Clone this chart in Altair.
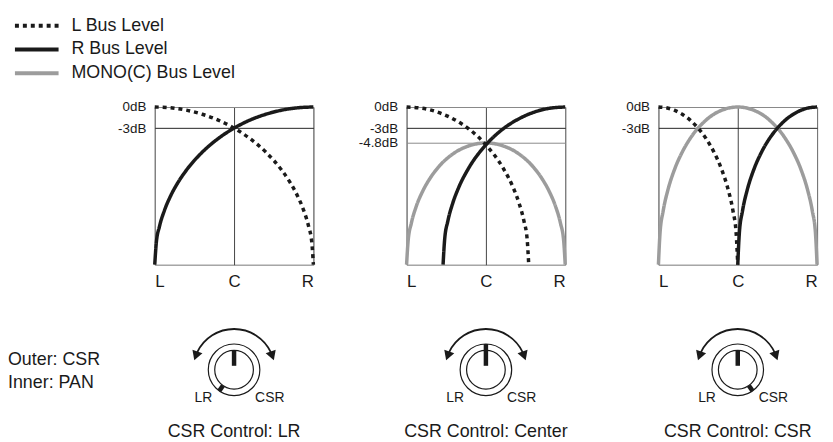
import altair as alt
import pandas as pd

FONT = "Liberation Sans"
INK = "#1a1a1a"
GRAY = "#9c9c9c"

series = ["MONO(C) Bus Level", "L Bus Level", "R Bus Level"]
legend_order = ["L Bus Level", "R Bus Level", "MONO(C) Bus Level"]
captions = ["CSR Control: LR", "CSR Control: Center", "CSR Control: CSR"]

# ---- curve values (x: 0=L, 0.5=C, 1=R ; y: 0=bottom, 1=0dB)
p1_R_x = [0, 0.01, 0.03, 0.06, 0.10, 0.15, 0.20, 0.30, 0.40, 0.50, 0.60, 0.70, 0.80, 0.90, 1.00]
p1_R_y = [0, 0.141, 0.243, 0.341, 0.436, 0.527, 0.600, 0.714, 0.800, 0.866, 0.917, 0.954, 0.980, 0.995, 1.0]
p1_L_x = [0, 0.10, 0.20, 0.30, 0.40, 0.50, 0.60, 0.70, 0.80, 0.85, 0.90, 0.94, 0.97, 0.99, 1.00]
p1_L_y = [1.0, 0.995, 0.980, 0.954, 0.917, 0.866, 0.800, 0.714, 0.600, 0.527, 0.436, 0.341, 0.243, 0.141, 0]

p2_M_x = [0, 0.01, 0.03, 0.06, 0.10, 0.15, 0.20, 0.30, 0.40, 0.50, 0.60, 0.70, 0.80, 0.85, 0.90, 0.94, 0.97, 0.99, 1.00]
p2_M_y = [0, 0.154, 0.263, 0.367, 0.463, 0.551, 0.618, 0.708, 0.756, 0.772, 0.756, 0.708, 0.618, 0.551, 0.463, 0.367, 0.263, 0.154, 0]
p2_R_x = [0.23, 0.24, 0.26, 0.29, 0.33, 0.39, 0.50, 0.60, 0.70, 0.80, 0.90, 1.00]
p2_R_y = [0, 0.161, 0.276, 0.387, 0.493, 0.610, 0.760, 0.855, 0.921, 0.966, 0.992, 1.0]
p2_L_x = [0, 0.10, 0.20, 0.30, 0.40, 0.50, 0.61, 0.67, 0.71, 0.74, 0.76, 0.77]
p2_L_y = [1.0, 0.992, 0.966, 0.921, 0.855, 0.760, 0.610, 0.493, 0.387, 0.276, 0.161, 0]

p3_M_x = [0, 0.01, 0.03, 0.06, 0.10, 0.15, 0.20, 0.30, 0.40, 0.50, 0.60, 0.70, 0.80, 0.85, 0.90, 0.94, 0.97, 0.99, 1.00]
p3_M_y = [0, 0.199, 0.341, 0.475, 0.600, 0.714, 0.800, 0.917, 0.980, 1.0, 0.980, 0.917, 0.800, 0.714, 0.600, 0.475, 0.341, 0.199, 0]
p3_L_x = [0, 0.05, 0.10, 0.15, 0.20, 0.25, 0.30, 0.35, 0.40, 0.44, 0.47, 0.49, 0.50]
p3_L_y = [1.0, 0.995, 0.980, 0.954, 0.917, 0.866, 0.800, 0.714, 0.600, 0.475, 0.341, 0.199, 0]
p3_R_x = [0.50, 0.51, 0.53, 0.56, 0.60, 0.65, 0.70, 0.75, 0.80, 0.85, 0.90, 0.95, 1.00]
p3_R_y = [0, 0.199, 0.341, 0.475, 0.600, 0.714, 0.800, 0.866, 0.917, 0.954, 0.980, 0.995, 1.0]

# y tick levels per panel
db_levels = [[1.0, 0.866], [1.0, 0.866, 0.772], [1.0, 0.866]]

# ---- knob description
knob_rings = [26, 19.5]                 # outer / inner circle radius
outer_marker_angle = [-145, 0, 145]     # degrees clockwise from 12 o'clock
inner_marker_angle = [0, 0, 0]
knob_labels = ["LR", "CSR"]
notes = ["Outer: CSR", "Inner: PAN"]


def frame(name, xs, ys):
    return pd.DataFrame({"bus": name, "x": xs, "y": ys})


panel_data = [
    pd.concat([frame("L Bus Level", p1_L_x, p1_L_y), frame("R Bus Level", p1_R_x, p1_R_y)]),
    pd.concat([frame("MONO(C) Bus Level", p2_M_x, p2_M_y), frame("L Bus Level", p2_L_x, p2_L_y),
               frame("R Bus Level", p2_R_x, p2_R_y)]),
    pd.concat([frame("MONO(C) Bus Level", p3_M_x, p3_M_y), frame("L Bus Level", p3_L_x, p3_L_y),
               frame("R Bus Level", p3_R_x, p3_R_y)]),
]

legend = alt.Legend(
    title=None, orient="none", legendX=-128, legendY=-91, symbolType="M-4.4,0H4.4",
    symbolSize=100, symbolStrokeWidth=4, labelFontSize=18, labelFont=FONT, labelColor=INK,
    labelOffset=26, rowPadding=6, labelLimit=400, values=legend_order,
)


def curve_chart(df, levels):
    ylab = "datum.value == 1 ? '0dB' : datum.value == 0.866 ? '-3dB' : '-4.8dB'"
    return alt.Chart(df).mark_line(strokeWidth=3.5, interpolate="monotone", strokeCap="butt").encode(
        x=alt.X("x:Q", scale=alt.Scale(domain=[0, 1], nice=False, zero=False),
                axis=alt.Axis(values=[0, 0.5, 1], title=None, ticks=False, tickSize=0, domain=False,
                              labelExpr="datum.value == 0 ? 'L' : datum.value == 1 ? 'R' : 'C'",
                              labelFontSize=17, labelPadding=9.5, labelColor=INK, labelFont=FONT,
                              grid=True, gridWidth=1,
                              gridColor={"condition": {"test": "datum.value == 0.5", "value": "#444"}, "value": "#777"})),
        y=alt.Y("y:Q", scale=alt.Scale(domain=[0, 1], nice=False, zero=False),
                axis=alt.Axis(values=levels, title=None, ticks=False, tickSize=0, domain=False,
                              labelExpr=ylab, labelFontSize=13.5, labelPadding=9, labelColor=INK,
                              labelFont=FONT, grid=True, gridWidth=1,
                              gridColor={"condition": {"test": "datum.value == 0.866", "value": "#222"}, "value": "#8a8a8a"})),
        color=alt.Color("bus:N", scale=alt.Scale(domain=series, range=[GRAY, INK, INK]), legend=legend),
        strokeDash=alt.StrokeDash("bus:N", scale=alt.Scale(domain=series, range=[[1, 0], [4, 4], [1, 0]]),
                                  legend=legend),
    ).properties(width=160, height=159, view=alt.ViewBackground(stroke="#777", strokeWidth=1))


XS = alt.Scale(domain=[-80, 80], nice=False, zero=False)
YS = alt.Scale(domain=[-44, 46], nice=False, zero=False)


def knob_chart(i):
    ring = alt.Chart(pd.DataFrame({"r": knob_rings})).transform_calculate(
        s="pow(2 * datum.r, 2)", cx="0", cy="0"
    ).mark_point(shape="circle", filled=False, stroke=INK, strokeWidth=1.2, opacity=1).encode(
        x=alt.X("cx:Q", scale=XS, axis=None), y=alt.Y("cy:Q", scale=YS, axis=None),
        size=alt.Size("s:Q", scale=None, legend=None),
    )
    center = pd.DataFrame({"cx": [0], "cy": [0]})
    arc = alt.Chart(center).mark_arc(radius=42, radius2=40.2, theta=5.15, theta2=7.42, color=INK).encode(
        x=alt.X("cx:Q", scale=XS, axis=None), y=alt.Y("cy:Q", scale=YS, axis=None))
    heads = alt.Chart(pd.DataFrame({"a": [-70, 70], "rot": [200, 160]})).transform_calculate(
        hx="41 * sin(datum.a * PI / 180)", hy="41 * cos(datum.a * PI / 180)"
    ).mark_point(shape="triangle-up", filled=True, color=INK, size=115, opacity=1).encode(
        x=alt.X("hx:Q", scale=XS, axis=None), y=alt.Y("hy:Q", scale=YS, axis=None),
        angle=alt.Angle("rot:Q", scale=None))
    marks = pd.DataFrame({
        "a": [inner_marker_angle[i], outer_marker_angle[i]],
        "r1": [4, knob_rings[1]],
        "r2": [knob_rings[1], knob_rings[0]],
    })
    bars = alt.Chart(marks).transform_calculate(
        x1="datum.r1 * sin(datum.a * PI / 180)", y1="datum.r1 * cos(datum.a * PI / 180)",
        x2="datum.r2 * sin(datum.a * PI / 180)", y2="datum.r2 * cos(datum.a * PI / 180)",
    ).mark_rule(strokeWidth=4.5, strokeCap="butt", color=INK).encode(
        x=alt.X("x1:Q", scale=XS, axis=None), y=alt.Y("y1:Q", scale=YS, axis=None),
        x2="x2:Q", y2="y2:Q")
    labs = alt.Chart(pd.DataFrame({"t": knob_labels, "lx": [-31, 36], "ly": [-29, -29]})).mark_text(
        font=FONT, fontSize=14, color=INK).encode(
        x=alt.X("lx:Q", scale=XS, axis=None), y=alt.Y("ly:Q", scale=YS, axis=None), text="t:N")
    layers = [ring, arc, heads, bars, labs]
    if i == 0:
        note = alt.Chart(pd.DataFrame({"t": notes, "nx": [-228, -228], "ny": [10, -13]})).mark_text(
            font=FONT, fontSize=18, color=INK, align="left").encode(
            x=alt.X("nx:Q", scale=XS, axis=None), y=alt.Y("ny:Q", scale=YS, axis=None), text="t:N")
        layers.append(note)
    return alt.layer(*layers).properties(
        width=160, height=90, view=alt.ViewBackground(stroke="transparent", strokeWidth=0),
        title=alt.TitleParams(text=captions[i], orient="bottom", fontSize=18, font=FONT,
                              fontWeight="normal", color=INK, offset=10, anchor="middle"),
    )


cells = [curve_chart(panel_data[i], db_levels[i]) for i in range(3)] + [knob_chart(i) for i in range(3)]

chart = alt.ConcatChart(
    concat=cells, columns=3, spacing={"row": 60, "column": 94}, bounds="flush", align="each",
).resolve_scale(
    x="independent", y="independent", color="shared", strokeDash="shared"
).properties(
    padding={"left": 0, "top": 7, "right": 0, "bottom": 0}
).configure_view(strokeWidth=0).configure(font=FONT)

chart.save("out.html", embed_options={"renderer": "svg", "actions": False})
